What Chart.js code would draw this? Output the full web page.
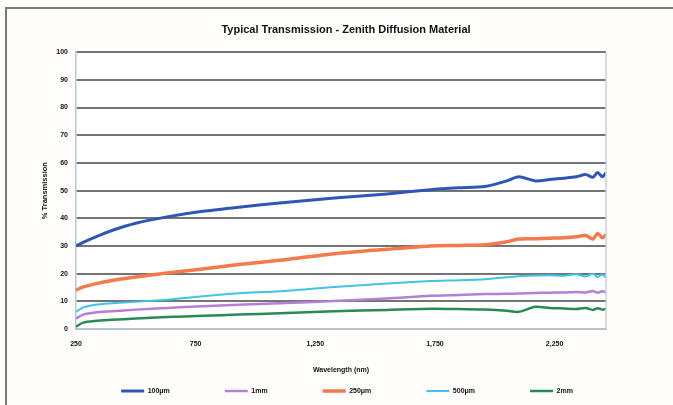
<!DOCTYPE html>
<html>
<head>
<meta charset="utf-8">
<script src="https://cdn.jsdelivr.net/npm/chart.js@4"></script>
<style>
  html, body { margin: 0; padding: 0; background: #fffdfc; }
  .chart-container { position: relative; width: 673px; height: 405px; }
</style>
</head>
<body>
<div class="chart-container">
  <canvas id="lineChart" width="673" height="405"></canvas>
</div>
<script>
  // wavelengths (nm) shared by every series
  const wavelengths = [250, 280, 330, 400, 500, 630, 780, 930, 1100, 1330, 1550, 1730, 1850, 1960, 2050, 2100, 2170, 2230, 2290, 2340, 2380, 2410, 2430, 2450, 2465];

  // % transmission
  const t100um = [30, 31.3, 33.2, 35.6, 38.2, 40.5, 42.5, 44, 45.5, 47.3, 48.8, 50.3, 51, 51.5, 53.5, 55, 53.5, 54, 54.5, 55, 55.8, 54.8, 56.5, 55, 56.5];
  const t1mm   = [3.8, 5.2, 6, 6.4, 7, 7.6, 8.2, 8.8, 9.3, 10.1, 11, 12, 12.3, 12.6, 12.7, 12.8, 13, 13.1, 13.2, 13.4, 13.2, 13.7, 13.1, 13.6, 13.3];
  const t250um = [14, 15.2, 16.3, 17.5, 18.8, 20.2, 21.7, 23.3, 24.8, 27.2, 28.8, 30, 30.2, 30.4, 31.5, 32.5, 32.6, 32.8, 33, 33.3, 33.8, 32.5, 34.5, 33, 34];
  const t500um = [6.2, 7.8, 8.8, 9.3, 9.8, 10.6, 11.8, 12.9, 13.6, 15.2, 16.4, 17.3, 17.6, 18, 18.7, 19.1, 19.3, 19.4, 19.2, 19.8, 19, 20, 18.8, 19.7, 18.5];
  const t2mm   = [0.8, 2.3, 2.9, 3.3, 3.8, 4.3, 4.8, 5.2, 5.7, 6.4, 6.9, 7.3, 7.2, 7.0, 6.6, 6.2, 8.0, 7.6, 7.4, 7.2, 7.6, 6.9, 7.5, 7.0, 7.3];

  const xTicks = [250, 750, 1250, 1750, 2250];

  const legendPad = 55;

  function pts(arr) {
    return arr.map((v, i) => ({ x: wavelengths[i], y: v }));
  }

  function series(label, arr, color, width) {
    return {
      label: label,
      data: pts(arr),
      borderColor: color,
      backgroundColor: color,
      borderWidth: width,
      pointRadius: 0,
      pointStyle: "line",
      tension: 0.25,
      fill: false,
    };
  }

  // page frame + plot right edge
  const framePlugin = {
    id: "frame",
    beforeDraw(chart) {
      const c = chart.ctx;
      c.save();
      c.fillStyle = "#fffdfc";
      c.fillRect(0, 0, chart.width, chart.height);
      const a = chart.chartArea;
      c.fillStyle = "#ffffff";
      c.fillRect(a.left, a.top, a.right - a.left, a.bottom - a.top);
      c.strokeStyle = "#7a7a7a";
      c.lineWidth = 2;
      c.beginPath();
      c.moveTo(6, chart.height);
      c.lineTo(6, 8);
      c.lineTo(chart.width, 8);
      c.stroke();
      c.restore();
    },
    afterDatasetsDraw(chart) {
      const c = chart.ctx;
      const a = chart.chartArea;
      c.save();
      c.strokeStyle = "#c5d3e0";
      c.lineWidth = 1.5;
      c.beginPath();
      c.moveTo(a.right, a.top);
      c.lineTo(a.right, a.bottom);
      c.stroke();
      c.restore();
    },
  };

  // wide legend spacing without a tall legend box, title centred on the plot
  const placePlugin = {
    id: "place",
    beforeInit(chart) {
      const legend = chart.legend;
      const fit = legend.fit;
      legend.fit = function () {
        fit.call(this);
        this.height = 24;
      };
    },
    afterLayout(chart) {
      const legend = chart.legend;
      legend.top = 387.5 - legendPad;
      legend.left += 25;
      legend.right += 25;
      const t = chart.titleBlock;
      t.left = 86;
    },
  };

  const tickFont = { family: "Liberation Sans", size: 7, weight: "bold" };

  const ctx = document.getElementById("lineChart").getContext("2d");
  const lineChart = new Chart(ctx, {
    type: "line",
    data: {
      datasets: [
        series("100\u03bcm", t100um, "#2f56b4", 3),
        series("1mm", t1mm, "#b47fd6", 2.5),
        series("250\u03bcm", t250um, "#f27a4c", 3.5),
        series("500\u03bcm", t500um, "#3fc3ea", 2),
        series("2mm", t2mm, "#2a8a55", 2.5),
      ],
    },
    options: {
      responsive: false,
      animation: false,
      layout: { padding: { left: 38, right: 67, top: 0, bottom: 1 } },
      plugins: {
        title: {
          display: true,
          text: "Typical Transmission - Zenith Diffusion Material",
          color: "#111",
          font: { family: "Liberation Sans", size: 11, weight: "bold" },
          padding: { top: 23, bottom: 16 },
        },
        legend: {
          position: "bottom",
          labels: {
            color: "#111",
            font: tickFont,
            usePointStyle: true,
            pointStyleWidth: 23,
            boxHeight: 7,
            padding: legendPad,
          },
        },
        tooltip: { enabled: false },
      },
      scales: {
        x: {
          type: "linear",
          min: 250,
          max: 2465,
          afterBuildTicks(scale) {
            scale.ticks = xTicks.map((v) => ({ value: v }));
          },
          afterFit(scale) {
            scale.height = 51;
          },
          grid: { display: false, drawTicks: false },
          border: { color: "#b9c3cc", width: 2 },
          ticks: {
            color: "#111",
            font: tickFont,
            padding: 11,
            maxRotation: 0,
            callback: (v) => v.toLocaleString("en-US"),
          },
          title: {
            display: true,
            text: "Wavelength (nm)",
            color: "#111",
            font: tickFont,
            padding: { top: 0, bottom: 6 },
          },
        },
        y: {
          min: 0,
          max: 100,
          afterFit(scale) {
            scale.width = 38;
          },
          grid: {
            color: (c) => (c.tick && c.tick.value === 0 ? "rgba(0,0,0,0)" : "#747474"),
            lineWidth: 2,
            drawTicks: false,
          },
          border: { color: "#b9c8d6", width: 1.5 },
          ticks: {
            stepSize: 10,
            color: "#111",
            font: tickFont,
            padding: 8,
          },
          title: {
            display: true,
            text: "% Transmission",
            color: "#111",
            font: { family: "Liberation Sans", size: 7.5, weight: "bold" },
            padding: { top: 2, bottom: 0 },
          },
        },
      },
    },
    plugins: [framePlugin, placePlugin],
  });
</script>
</body>
</html>
